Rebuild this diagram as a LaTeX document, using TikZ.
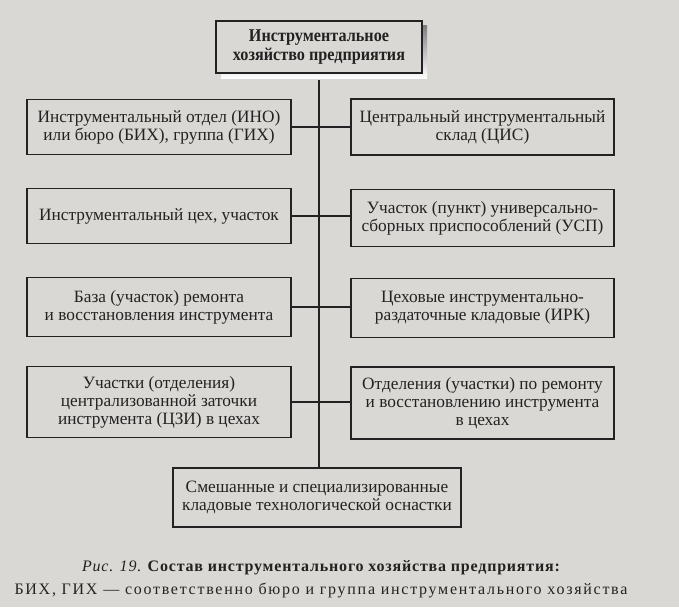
\documentclass[tikz,border=0pt]{standalone}
\usepackage{fontspec}
\setmainfont{Liberation Serif}
\newfontfamily\condfont[FakeStretch=0.9]{Liberation Serif}
\newfontfamily\capfontA[LetterSpace=5]{Liberation Serif}
\newfontfamily\capfontB[LetterSpace=10.8]{Liberation Serif}
\definecolor{pagebg}{HTML}{DAD8D4}
\definecolor{ink}{HTML}{222222}
\definecolor{shade}{HTML}{2A2A2A}
\tikzset{
  box/.style={draw=ink, line width=1.1pt, fill=pagebg, inner sep=0pt, align=center,
    text=ink, font=\fontsize{17.3}{18}\selectfont},
  topbox/.style={box, font=\condfont\bfseries\fontsize{18}{19.5}\selectfont},
  link/.style={draw=ink, line width=1.1pt},
  captxt/.style={inner sep=0pt, text=ink}
}
\begin{document}
\begin{tikzpicture}[x=1pt,y=-1pt]
\fill[pagebg] (0,0) rectangle (679,607);
\useasboundingbox (0,0) rectangle (679,607);
% top box with shadow
\fill[shade] (221,26) rectangle (427,78.5);
\node[topbox, minimum width=206pt, minimum height=52pt] (top) at (319,47) {Инструментальное\\хозяйство предприятия};
% left column
\node[box, minimum width=264pt, minimum height=55pt] (L1) at (159,127) {Инструментальный отдел (ИНО)\\или бюро (БИХ), группа (ГИХ)};
\node[box, minimum width=264pt, minimum height=55pt] (L2) at (159,216) {Инструментальный цех, участок};
\node[box, minimum width=264pt, minimum height=59pt] (L3) at (159,307) {База (участок) ремонта\\и восстановления инструмента};
\node[box, minimum width=264pt, minimum height=71pt] (L4) at (159,402) {Участки (отделения)\\централизованной заточки\\инструмента (ЦЗИ) в цехах};
% right column
\node[box, minimum width=263pt, minimum height=56pt] (R1) at (482.5,127) {Центральный инструментальный\\склад (ЦИС)};
\node[box, minimum width=263pt, minimum height=57pt] (R2) at (482.5,218) {Участок (пункт) универсально-\\сборных приспособлений (УСП)};
\node[box, minimum width=263pt, minimum height=59pt] (R3) at (482.5,308) {Цеховые инструментально-\\раздаточные кладовые (ИРК)};
\node[box, minimum width=263pt, minimum height=72pt] (R4) at (482.5,403) {Отделения (участки) по ремонту\\и восстановлению инструмента\\в цехах};
% bottom box
\node[box, minimum width=288pt, minimum height=59pt] (bot) at (317,497.5) {Смешанные и специализированные\\кладовые технологической оснастки};
% connectors
\coordinate (spineTop) at ([yshift=-6pt]top.south);
\draw[link] (spineTop) -- (spineTop |- bot.north);
\draw[link] (L1.east) -- (L1.east -| R1.west);
\draw[link] (L2.east) -- (L2.east -| R2.west);
\draw[link] (L3.east) -- (L3.east -| R3.west);
\draw[link] (L4.east) -- (L4.east -| R4.west);
% caption
\node[captxt, font=\capfontA\fontsize{16}{18}\selectfont] (cap1) at (321,568) {\itshape Рис. 19. \upshape\bfseries Состав инструментального хозяйства предприятия:};
\node[captxt, font=\capfontB\fontsize{16}{18}\selectfont] (cap2) at (321,590) {БИХ, ГИХ — соответственно бюро и группа инструментального хозяйства};
\end{tikzpicture}
\end{document}
